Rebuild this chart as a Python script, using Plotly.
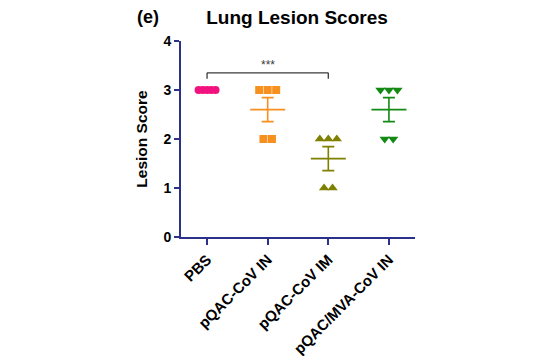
import numpy as np
import plotly.graph_objects as go

groups = ["PBS", "pQAC-CoV IN", "pQAC-CoV IM", "pQAC/MVA-CoV IN"]
scores_pbs = [3, 3, 3, 3, 3]
scores_in = [3, 3, 3, 2, 2]
scores_im = [2, 2, 2, 1, 1]
scores_mva = [3, 3, 3, 2, 2]
y_ticks = [0, 1, 2, 3, 4]
colors = ["#F2127F", "#F7901E", "#7F7F00", "#138A13"]
symbols = ["circle", "square", "triangle-up", "triangle-down"]
steps = [0.07, 0.14, 0.14, 0.14]
sizes = [8, 8, 9, 9]

all_scores = [scores_pbs, scores_in, scores_im, scores_mva]

def swarm(vals, step):
    vals = np.asarray(vals, dtype=float)
    offs = np.zeros(len(vals))
    for v in np.unique(vals):
        idx = np.where(vals == v)[0]
        n = len(idx)
        offs[idx] = (np.arange(n) - (n - 1) / 2) * step
    return offs

# page body has an 8px margin; plot area in page pixels: x 181..415, y 41..237
OFF = 8
W, H = 550, 356
PL, PR, PT, PB = 181, 415, 41, 237
pw, ph = PR - PL, PB - PT

fig = go.Figure()
axis_col = "#2B3088"
for i, (g, s) in enumerate(zip(groups, all_scores)):
    x = i + swarm(s, steps[i])
    fig.add_trace(go.Scatter(x=x, y=s, mode="markers",
                             marker=dict(symbol=symbols[i], size=sizes[i], color=colors[i],
                                         line=dict(width=0)),
                             showlegend=False, cliponaxis=False))
    arr = np.asarray(s, dtype=float)
    mean = arr.mean()
    sem = arr.std(ddof=1) / np.sqrt(len(arr))
    if sem > 0:
        fig.add_trace(go.Scatter(x=[i], y=[mean], mode="markers",
                                 marker=dict(symbol="line-ew", size=25,
                                             line=dict(width=1.6, color=colors[i])),
                                 error_y=dict(type="constant", value=sem, color=colors[i],
                                              thickness=1.6, width=6),
                                 showlegend=False, cliponaxis=False))

# significance bracket PBS vs pQAC-CoV IM
by = 3.35
br_col = "#3a3a3a"
fig.add_shape(type="line", x0=0, x1=2, y0=by, y1=by, line=dict(color=br_col, width=1.3))
fig.add_shape(type="line", x0=0, x1=0, y0=by, y1=by - 0.12, line=dict(color=br_col, width=1.3))
fig.add_shape(type="line", x0=2, x1=2, y0=by, y1=by - 0.12, line=dict(color=br_col, width=1.3))
fig.add_annotation(x=1, y=by, text="***", showarrow=False, yanchor="bottom", yshift=-1,
                   font=dict(size=12, color=br_col, family="Liberation Sans"))

fig.add_annotation(text="<b>(e)</b>", xref="paper", yref="paper",
                   x=(148 - PL) / pw, y=1 + (PT - 17) / ph, xanchor="center", yanchor="middle",
                   showarrow=False,
                   font=dict(size=18, color="black", family="Liberation Sans"))

fig.update_layout(
    width=W, height=H,
    margin=dict(l=PL - OFF, r=W + OFF - PR, t=PT - OFF, b=H + OFF - PB, pad=0),
    paper_bgcolor="white", plot_bgcolor="white",
    title=dict(text="<b>Lung Lesion Scores</b>", x=(297 - OFF) / W, xanchor="center",
               y=1 - (17 - OFF) / H, yanchor="middle",
               font=dict(size=19, color="black", family="Liberation Sans")),
    font=dict(family="Liberation Sans", color="black"),
    xaxis=dict(range=[-0.43, 3.43], tickvals=[0, 1, 2, 3], automargin=False,
               ticktext=["<b>" + g + "</b>" for g in groups], tickangle=-45,
               showgrid=False, zeroline=False, showline=True, linecolor=axis_col, linewidth=2,
               ticks="outside", tickcolor=axis_col, tickwidth=2, ticklen=6,
               tickfont=dict(size=15, color="black")),
    yaxis=dict(range=[0, 4], tickvals=y_ticks, ticktext=["<b>%d</b>" % t for t in y_ticks],
               automargin=False,
               showgrid=False, zeroline=False, showline=True, linecolor=axis_col, linewidth=2,
               ticks="outside", tickcolor=axis_col, tickwidth=2, ticklen=5,
               tickfont=dict(size=14, color="black"),
               title=dict(text="<b>Lesion Score</b>", font=dict(size=15.5, color="black"), standoff=12)),
)
fig.write_html("out.html")
